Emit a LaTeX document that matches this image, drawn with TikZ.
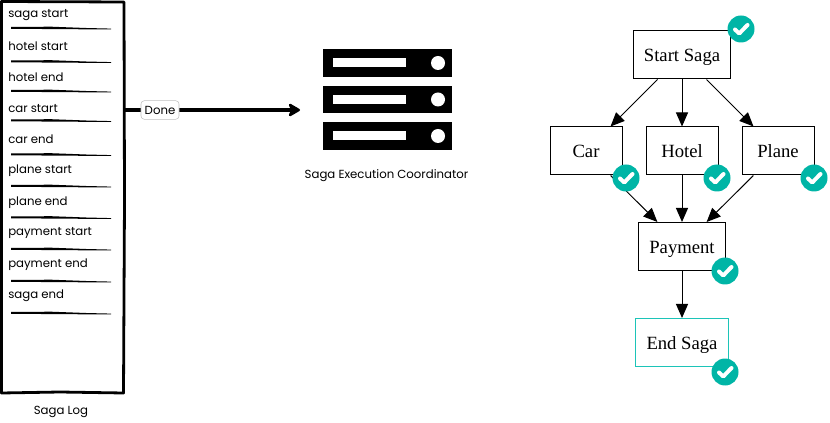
\documentclass[tikz,border=0pt]{standalone}
\usepackage{fontspec}
\setmainfont{Liberation Serif}
\newfontfamily\sketchfont{Poppins}
\usepackage{tikz}
\usetikzlibrary{positioning,arrows.meta,fit}
\definecolor{badgeteal}{HTML}{00B5A6}
\definecolor{endteal}{HTML}{1CC4B8}
\tikzset{
  flowarrow/.style={-{Triangle[length=10.5pt,width=9pt]}, line width=0.75pt},
  doneline/.style={-{Stealth[length=10.5pt,width=12pt,inset=3pt,round]}, line width=2.5pt},
  stepbox/.style={draw, line width=0.75pt, fill=white, font=\fontsize{14}{16}\selectfont, inner sep=0pt, minimum height=36pt, text height=10.5pt, text depth=0.5pt},
  endbox/.style={stepbox, draw=endteal},
  logentry/.style={font=\sketchfont\fontsize{8.8}{10}\selectfont, anchor=west, inner sep=0pt},
  logtitle/.style={font=\sketchfont\fontsize{8.8}{10}\selectfont, inner sep=0pt},
  tagbox/.style={draw=black!25, rounded corners=2.5pt, fill=white, font=\sketchfont\fontsize{8.8}{10}\selectfont, minimum width=28.5pt, minimum height=14pt, inner sep=0pt},
  rackbar/.style={fill=black},
  checkmark/.style={draw=white, line width=3pt, line cap=round, line join=round},
  logrule/.pic={
    \fill (0,-1) -- (40,-1.3) -- (75,0) -- (100,0.6) -- (100,1.5) -- (60,1.2) -- (0,0.8) -- cycle;
  },
  donebadge/.pic={
    \fill[badgeteal] (0,0) circle (13.5);
    \draw[checkmark] (-6,0.5) -- (-1.8,4.5) -- (6.5,-4);
  }
}
\begin{document}
\begin{tikzpicture}[x=0.75pt, y=-0.75pt, >=Latex]
  \useasboundingbox (0,0) rectangle (830,423);

  % log
  \draw[line width=2.1pt, line join=round] (1.5,1.5) -- (124,2) -- (124.5,200) -- (123.5,393) -- (60,392) -- (1.5,393) -- cycle;
  \node[logentry] (sagastart) at (8,15.5) {saga start};
  \node[logentry] (hotelstart) at (8,46.5) {hotel start};
  \node[logentry] (hotelend) at (8,77.5) {hotel end};
  \node[logentry] (carstart) at (8,108.5) {car start};
  \node[logentry] (carend) at (8,139.5) {car end};
  \node[logentry] (planestart) at (8,170.5) {plane start};
  \node[logentry] (planeend) at (8,202.5) {plane end};
  \node[logentry] (paystart) at (8,233.5) {payment start};
  \node[logentry] (payend) at (8,264.5) {payment end};
  \node[logentry] (sagaend) at (8,295.5) {saga end};
  \pic at (11,28) {logrule};
  \pic at (11,61.5) {logrule};
  \pic at (11,91) {logrule};
  \pic at (11,120.5) {logrule};
  \pic at (11,154.5) {logrule};
  \pic at (11,186) {logrule};
  \pic at (11,217.5) {logrule};
  \pic at (11,249) {logrule};
  \pic at (11,281) {logrule};
  \pic at (11,313) {logrule};
  \node[logtitle] (logtitle) at (61,412) {Saga Log};

  % coordinator
  \fill[rackbar] (323,49) rectangle (452,77);
  \fill[rackbar] (323,86) rectangle (452,113);
  \fill[rackbar] (323,122) rectangle (452,150);
  \fill[white] (333,58) rectangle (406,67);
  \fill[white] (333,95) rectangle (406,104);
  \fill[white] (333,131) rectangle (406,140);
  \fill[white] (438,63) circle (7);
  \fill[white] (438,99.5) circle (7);
  \fill[white] (438,136) circle (7);
  \node[logtitle] (sec) at (386.5,175.5) {Saga Execution Coordinator};
  \coordinate (logedge) at (125,110);
  \coordinate (secedge) at (300,110);
  \draw[doneline] (logedge) -- (secedge);
  \node[tagbox] (done) at (160,110) {Done};

  % saga graph
  \node[stepbox, minimum width=73pt] (start) at (682,55) {Start Saga};
  \node[stepbox, minimum width=54pt] (car) at (586,151) {Car};
  \node[stepbox, minimum width=54pt] (hotel) at (682,151) {Hotel};
  \node[stepbox, minimum width=54pt] (plane) at (778,151) {Plane};
  \node[stepbox, minimum width=65pt] (pay) at (682,246.5) {Payment};
  \node[endbox, minimum width=70pt] (end) at (682,342.5) {End Saga};
  \draw[flowarrow] (start) -- (car);
  \draw[flowarrow] (start) -- (hotel);
  \draw[flowarrow] (start) -- (plane);
  \draw[flowarrow] (car) -- (pay);
  \draw[flowarrow] (hotel) -- (pay);
  \draw[flowarrow] (plane) -- (pay);
  \draw[flowarrow] (pay) -- (end);

  \pic at (741,29) {donebadge};
  \pic at (626,178) {donebadge};
  \pic at (717,178) {donebadge};
  \pic at (814,178) {donebadge};
  \pic at (725,271) {donebadge};
  \pic at (725,372) {donebadge};
\end{tikzpicture}
\end{document}
